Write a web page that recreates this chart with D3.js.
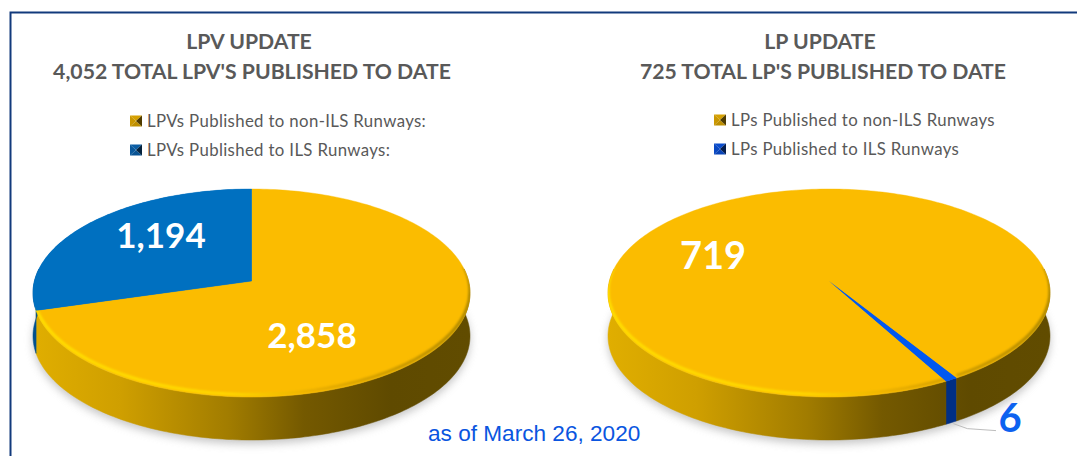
<!DOCTYPE html>
<html><head><meta charset="utf-8">
<script src="https://cdn.jsdelivr.net/npm/d3@7"></script>
<style>html,body{margin:0;padding:0;background:#fff}svg{display:block}</style>
</head><body><svg id="c" width="1077" height="456"></svg>
<script>
const lpvCategories = ["LPVs Published to non-ILS Runways:", "LPVs Published to ILS Runways:"];
const lpvValues = [2858, 1194];
const lpCategories = ["LPs Published to non-ILS Runways", "LPs Published to ILS Runways"];
const lpValues = [719, 6];
const lpvTitle = ["LPV UPDATE", "4,052 TOTAL LPV'S PUBLISHED TO DATE"];
const lpTitle = ["LP UPDATE", "725 TOTAL LP'S PUBLISHED TO DATE"];
const note = "as of March 26, 2020";

const svg = d3.select("#c");
const defs = svg.append("defs");
const blur = (id, s) => defs.append("filter").attr("id", id).attr("filterUnits", "userSpaceOnUse")
  .attr("x", 0).attr("y", 0).attr("width", 1077).attr("height", 456)
  .append("feGaussianBlur").attr("stdDeviation", s);
blur("soft", 4); blur("bevel", 1.2);

// frame
svg.append("path").attr("d", "M10.5,456V12.5H1077").attr("fill", "none").attr("stroke", "#123a7c").attr("stroke-width", 2);

const TAU = Math.PI * 2, K = -0.115, Q = Math.sqrt(1 - K * K);
function project(a) {              // angle clockwise from the top -> perspective disc coordinates
  const u = Math.sin(a), v = -Math.cos(a), d = 1 + K * v;
  return [u * Q / d, (v + K) / d];
}
function samples(a0, a1) {
  const n = Math.max(2, Math.ceil(Math.abs(a1 - a0) / 0.02));
  return d3.range(n + 1).map(i => a0 + (a1 - a0) * i / n);
}
// parts of an angular span that lie on the visible front half of the disc
function frontParts(a0, a1) {
  const out = [];
  [0, 1].forEach(k => {
    const lo = Math.max(a0, Math.PI / 2 - .12 + TAU * k), hi = Math.min(a1, 3 * Math.PI / 2 + .12 + TAU * k);
    if (hi > lo) out.push([lo, hi]);
  });
  return out;
}

function drawPie(cfg) {
  const g = svg.append("g");
  const x = d3.scaleLinear().domain([-1, 1]).range([cfg.cx - cfg.rx, cfg.cx + cfg.rx]);
  const y = d3.scaleLinear().domain([-1, 1]).range([cfg.cy - cfg.ry, cfg.cy + cfg.ry]);
  const line = d3.line().x(d => d[0]).y(d => d[1]);
  const pt = (a, dy = 0) => { const p = project(a); return [x(p[0]), y(p[1]) + dy]; };

  const rows = cfg.values.map((v, i) => ({ v, i })).sort((p, q) => cfg.order[p.i] - cfg.order[q.i]);
  const arcs = d3.pie().sort(null).value(d => d.v).startAngle(cfg.start).endAngle(cfg.start + TAU)(rows);

  const hGrad = (id, stops) => {
    const gr = defs.append("linearGradient").attr("id", id).attr("gradientUnits", "userSpaceOnUse")
      .attr("x1", cfg.cx - cfg.rx).attr("x2", cfg.cx + cfg.rx).attr("y1", 0).attr("y2", 0);
    stops.forEach(s => gr.append("stop").attr("offset", s[0]).attr("stop-color", s[1]));
  };
  const gid = "wall" + cfg.id, bid = "bev" + cfg.id;
  hGrad(gid, [[0, "#e0ae00"], [.2, "#cf9f00"], [.45, "#a17c00"], [.62, "#745900"], [.82, "#5f4a00"], [1, "#614c00"]]);
  hGrad(bid, [[0, "#ffe000"], [.45, "#ffd800"], [.65, "#e8ad00"], [1, "#a88400"]]);

  // soft ground shadow
  const ring = samples(0, TAU).map(a => pt(a, cfg.depth + 4));
  g.append("path").attr("d", line(ring) + "Z").attr("fill", "#a0a0a0").attr("opacity", .6).attr("filter", "url(#soft)");

  // side walls
  arcs.forEach(d => frontParts(d.startAngle, d.endAngle).forEach(([lo, hi]) => {
    const as = samples(lo, hi);
    const pts = as.map(a => pt(a)).concat(as.slice().reverse().map(a => pt(a, cfg.depth)));
    const paint = d.data.i === 0 ? `url(#${gid})` : cfg.wall;
    g.append("path").attr("d", line(pts) + "Z").attr("fill", paint).attr("stroke", paint).attr("stroke-width", .5);
  }));

  // top face slices
  const apex = [x(0), y(K)];
  arcs.forEach(d => {
    const pts = [apex].concat(samples(d.startAngle, d.endAngle).map(a => pt(a)));
    const paint = d.data.i === 0 ? cfg.top : cfg.fill;
    g.append("path").attr("d", line(pts) + "Z").attr("fill", paint).attr("stroke", paint).attr("stroke-width", .4);
  });

  // bright bevel on the front edge of the yellow slice
  const yellow = arcs.find(d => d.data.i === 0);
  const clipId = "clip" + cfg.id;
  defs.append("clipPath").attr("id", clipId).append("path")
    .attr("d", line(samples(0, TAU).map(a => pt(a, 1))) + "Z");
  const bevG = g.append("g").attr("clip-path", `url(#${clipId})`);
  frontParts(yellow.startAngle, yellow.endAngle).forEach(([lo, hi]) => {
    bevG.append("path").attr("d", line(samples(lo, hi).map(a => pt(a, -2.5))))
      .attr("fill", "none").attr("stroke", `url(#${bid})`).attr("stroke-width", 3).attr("filter", "url(#bevel)");
  });
  arcs.filter(d => d.data.i !== 0).forEach(d => {
    const pts = [apex].concat(samples(d.startAngle, d.endAngle).map(a => pt(a)));
    g.append("path").attr("d", line(pts) + "Z").attr("fill", cfg.fill);
  });

  // titles
  g.append("g").selectAll("text").data(cfg.title).join("text")
    .attr("x", (d, i) => cfg.titleX - (i === 0 ? 3 : 0)).attr("y", (d, i) => 49 + i * 30).attr("text-anchor", "middle")
    .attr("font-family", "Lato").attr("font-weight", 700).attr("font-size", 21.2).attr("fill", "#595959").text(d => d);

  // legend
  const lg = g.append("g").selectAll("g").data(cfg.categories).join("g")
    .attr("transform", (d, i) => `translate(${cfg.legX},${cfg.legY + i * cfg.legStep})`);
  lg.append("text").attr("x", 11).attr("y", 5.5).attr("font-family", "Lato").attr("font-size", 16.8)
    .attr("fill", "#595959").attr("letter-spacing", .35).text(d => d);
  const tri = [["M-6,-5.5L6,-5.5L0,0Z", .95], ["M-6,5.5L6,5.5L0,0Z", .85], ["M-6,-5.5L-6,5.5L0,0Z", .9], ["M6,-5.5L6,5.5L0,0Z", .35]];
  lg.each(function (d, i) {
    const c = cfg.swatch[i];
    d3.select(this).selectAll("path").data(tri).join("path").attr("d", t => t[0])
      .attr("fill", t => d3.interpolateRgb("#000", c)(t[1]));
  });

  // value labels
  cfg.labels.forEach((l, i) => {
    g.append("text").attr("x", l.x).attr("y", l.y).attr("text-anchor", "middle").attr("font-family", "Lato")
      .attr("font-weight", 700).attr("font-size", l.size).attr("fill", l.fill).text(d3.format(",")(cfg.values[i]));
  });

  if (cfg.leader) {
    const nar = arcs.find(d => d.data.i === 1);
    const p = pt((nar.startAngle + nar.endAngle) / 2, cfg.depth);
    g.append("path").attr("d", `M${p[0] + 2},${p[1] + 1}L${p[0] + 16},${p[1] + 6}L${cfg.leader},${p[1] + 8}`)
      .attr("fill", "none").attr("stroke", "#bdbdbd").attr("stroke-width", 1);
  }
}

drawPie({ id: "a", cx: 251.5, cy: 293, rx: 218.5, ry: 104, depth: 43, start: 0, order: [0, 1],
  values: lpvValues, categories: lpvCategories, title: lpvTitle, titleX: 252,
  top: "#fbbc00", fill: "#0070c0", wall: "#00508c", swatch: ["#e0a800", "#0a62ad"],
  legX: 136, legY: 121, legStep: 29,
  labels: [{ x: 312, y: 348, size: 35, fill: "#fff" }, { x: 161, y: 248, size: 35, fill: "#fff" }] });

drawPie({ id: "b", cx: 829, cy: 293, rx: 221, ry: 104, depth: 43, start: 2.59, order: [1, 0],
  values: lpValues, categories: lpCategories, title: lpTitle, titleX: 823,
  top: "#fbbc00", fill: "#0058f0", wall: "#002f85", swatch: ["#e0a800", "#0a50d8"],
  legX: 720, legY: 120, legStep: 29, leader: 996,
  labels: [{ x: 713, y: 269, size: 38, fill: "#fff" }, { x: 1010, y: 432, size: 40, fill: "#0d62f0" }] });

svg.append("text").attr("x", 428).attr("y", 441).attr("font-family", "Liberation Sans").attr("font-size", 22.6)
  .attr("fill", "#0a55e0").text(note);
</script></body></html>
